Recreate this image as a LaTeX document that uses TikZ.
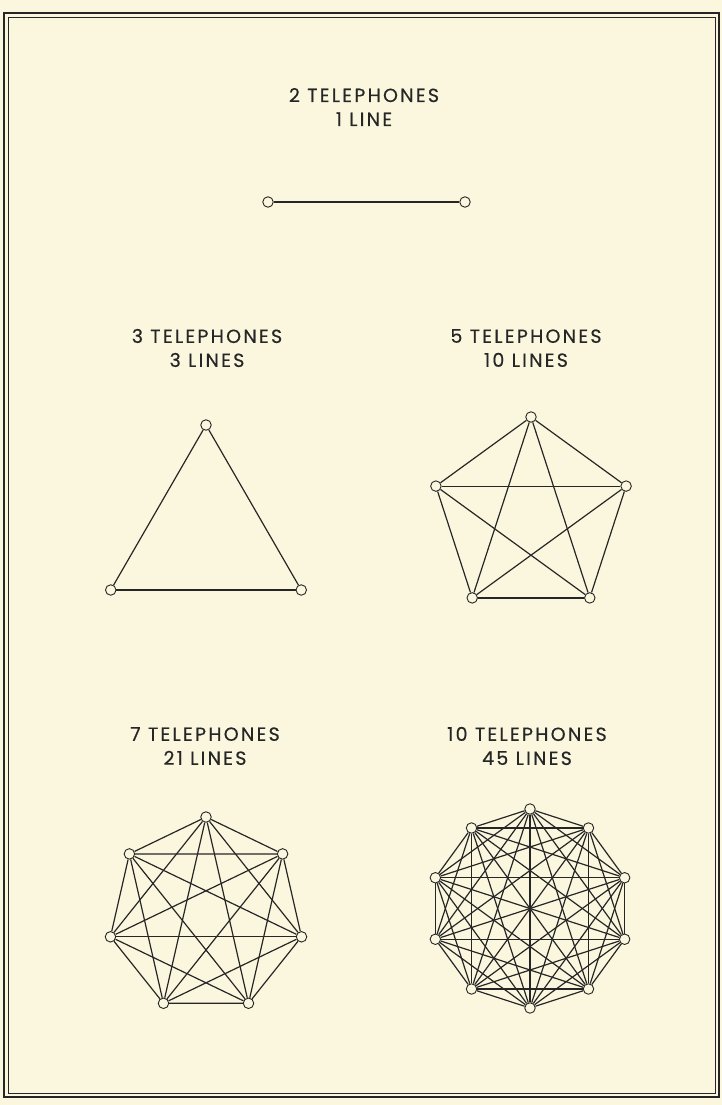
\documentclass[tikz,border=0pt]{standalone}
\usepackage{fontspec}
\setmainfont{Poppins}[LetterSpace=12, FakeBold=0.4]
\definecolor{paper}{HTML}{FBF7DE}
\definecolor{ink}{HTML}{262626}
\tikzset{
  phone/.style={draw=ink, circle, fill=paper, inner sep=0pt, minimum size=10.5pt, line width=0.9pt},
  wire/.style={draw=ink, line width=1.2pt},
  caption/.style={align=center, text=ink, font=\fontsize{19}{24}\selectfont}
}
\begin{document}
\begin{tikzpicture}[x=1pt,y=-1pt]
\fill[paper] (0,0) rectangle (722,1105);
\draw[ink, line width=2pt] (4,13) rectangle (719,1097);
\draw[ink, line width=0.6pt] (8,17) rectangle (715,1093);

\node[caption] (two) at (364,107) {2 TELEPHONES\\1 LINE};
\node[caption] (three) at (207,348) {3 TELEPHONES\\3 LINES};
\node[caption] (five) at (526,348) {5 TELEPHONES\\10 LINES};
\node[caption] (seven) at (205,746) {7 TELEPHONES\\21 LINES};
\node[caption] (ten) at (527,746) {10 TELEPHONES\\45 LINES};

\node[phone] (a0) at (268,202) {};
\node[phone] (a1) at (465,202) {};
\draw[wire] (a0) -- (a1);

\foreach \i in {0,1,2}
  \path (206,535) ++(90+120*\i:110pt) node[phone] (b\i) {};
\foreach \i in {0,1} {
  \pgfmathtruncatemacro\n{\i+1}
  \foreach \j in {\n,...,2} \draw[wire] (b\i) -- (b\j);
}

\foreach \i in {0,...,4}
  \path (531,517) ++(90+72*\i:100pt) node[phone] (c\i) {};
\foreach \i in {0,...,3} {
  \pgfmathtruncatemacro\n{\i+1}
  \foreach \j in {\n,...,4} \draw[wire] (c\i) -- (c\j);
}

\foreach \i in {0,...,6}
  \path (206,915) ++(90+360/7*\i:98pt) node[phone] (d\i) {};
\foreach \i in {0,...,5} {
  \pgfmathtruncatemacro\n{\i+1}
  \foreach \j in {\n,...,6} \draw[wire] (d\i) -- (d\j);
}

\foreach \i in {0,...,9}
  \path (530,908.5) ++(90+36*\i:99.5pt) node[phone] (e\i) {};
\foreach \i in {0,...,8} {
  \pgfmathtruncatemacro\n{\i+1}
  \foreach \j in {\n,...,9} \draw[wire] (e\i) -- (e\j);
}
\end{tikzpicture}
\end{document}
